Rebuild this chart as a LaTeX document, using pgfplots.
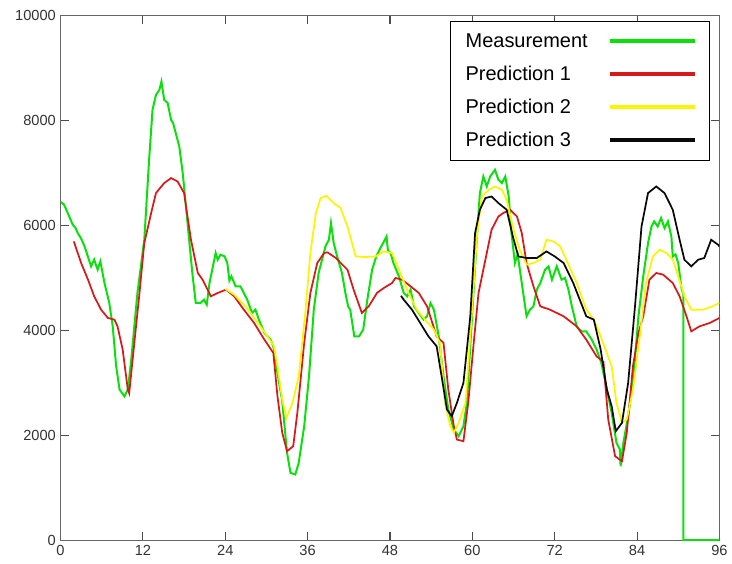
\documentclass[border=0pt]{standalone}
\usepackage{fontspec}
\setmainfont{Liberation Sans}
\usepackage{pgfplots}
\pgfplotsset{compat=1.18}

\definecolor{meas}{RGB}{10,225,10}
\definecolor{pred1}{RGB}{215,25,25}
\definecolor{pred2}{RGB}{250,245,0}
\definecolor{pred3}{RGB}{10,10,10}

\begin{document}
\begin{tikzpicture}
\begin{axis}[
  scale only axis,
  width=495pt, height=394pt,
  xmin=0, xmax=96, ymin=0, ymax=10000,
  xtick={0,12,...,96},
  ytick={0,2000,...,10000},
  tick align=inside, tick pos=both,
  major tick length=6pt,
  axis line style={black!60, line width=0.9pt},
  tick style={black!70, line width=0.8pt},
  ticklabel style={font=\fontsize{11}{13}\selectfont, text=black!80},
  /pgf/number format/assume math mode=true,
  /pgf/number format/1000 sep={},
  scaled y ticks=false,
  legend plot pos=right,
  legend cell align=left,
  legend image code/.code={\draw[#1,line width=3pt] (0pt,0pt) -- (64pt,0pt);},
  legend style={at={(0.986,0.99)}, anchor=north east, draw=black, line width=1pt,
    font=\fontsize{15}{18}\selectfont, inner xsep=9.5pt, inner ysep=7pt,
    row sep=8.5pt, /tikz/every odd column/.append style={column sep=13pt}},
]
\addplot[meas, line width=1.5pt] coordinates {
(0,6450) (0.5,6400) (1,6250) (1.5,6100) (1.8,6010) (2.2,5950) (2.5,5856) (3,5750)
(3.5,5600) (4,5400) (4.45,5220) (4.9,5350) (5.4,5157) (5.8,5315) (6.4,4903) (7.1,4522)
(7.6,4077) (8.1,3315) (8.6,2871) (9.3,2743) (9.8,2871) (10.3,3442) (11.2,4713) (12.2,5728)
(12.9,7252) (13.4,8205) (13.9,8490) (14.4,8586) (14.7,8744) (15.1,8395) (15.6,8338) (16.1,8014)
(16.4,7951) (17.3,7506) (17.8,7000) (18.5,6047) (19.2,5094) (19.7,4522) (20.4,4522) (20.9,4585)
(21.3,4490) (21.7,4903) (22.1,5157) (22.6,5475) (22.9,5347) (23.3,5443) (23.9,5411) (24.3,5284)
(24.6,4950) (24.9,5030) (25.5,4840) (26.2,4840) (27.2,4585) (27.9,4332) (28.4,4395) (28.9,4204)
(29.7,3951) (30.6,3823) (31.0,3696) (31.6,3189) (32.3,2650) (33.0,1665) (33.5,1284) (34.2,1252)
(34.7,1474) (35.5,2172) (36.2,3124) (36.9,4395) (37.6,5094) (38.6,5601) (39.1,5728) (39.4,6047)
(39.8,5665) (40.3,5410) (41.0,5094) (41.5,4713) (41.9,4458) (42.2,4395) (42.8,3886) (43.5,3886)
(44.1,4014) (44.7,4585) (45.4,5157) (46.0,5410) (46.6,5570) (47.0,5665) (47.5,5791) (47.7,5520)
(48.1,5475) (48.5,5284) (49.3,5030) (50.0,4713) (50.5,4649) (51.0,4776) (51.5,4458) (52.2,4332)
(52.9,4204) (53.4,4268) (53.9,4522) (54.4,4395) (55.1,3886) (55.8,3124) (56.5,2490) (57.3,2109)
(58.0,1981) (58.7,2172) (59.2,2617) (59.9,4141) (60.7,5856) (61.1,6618) (61.6,6934) (62.1,6744)
(62.6,6934) (63.3,7062) (63.8,6871) (64.3,6808) (64.8,6934) (65.3,6553) (65.7,5856) (66.2,5284)
(66.6,5450) (67.2,4903) (67.9,4268) (68.4,4395) (68.9,4458) (69.4,4776) (69.9,4903) (70.6,5157)
(71.1,5220) (71.6,4966) (72.3,5220) (73.0,4966) (73.5,5000) (74.0,4776) (74.5,4458) (75.2,4077)
(75.9,3981) (76.6,3981) (77.4,3823) (78.1,3633) (78.8,3379) (79.5,2934) (80.3,2427) (81.0,1855)
(81.5,1728) (81.6,1410) (82.0,1855) (82.7,2362) (83.4,2998) (84.2,4268) (84.9,5030) (85.6,5665)
(86.1,5982) (86.5,6077) (87.0,5982) (87.5,6142) (88.0,5950) (88.5,6077) (89.0,5791) (89.2,5410)
(89.6,5450) (90.0,5284) (90.5,4780) (90.75,4700) (90.75,0) (96,0)
};
\addlegendentry{Measurement}
\addplot[pred1, line width=1.3pt] coordinates {
(1.93,5696) (3.0,5284) (4.0,4966) (4.9,4649) (5.9,4395) (6.9,4236) (7.85,4204) (8.3,4077)
(9.05,3633) (9.8,2871) (10.0,2800) (10.75,3760) (11.5,4713) (12.2,5665) (13.2,6237) (13.9,6618)
(15.1,6808) (16.1,6904) (17.05,6839) (18.0,6618) (19.0,5728) (20.0,5094) (20.7,4966) (21.9,4649)
(22.9,4713) (24.1,4776) (25.3,4649) (26.7,4395) (28.2,4141) (29.7,3823) (31.0,3570) (31.6,2750)
(32.3,2046) (33.0,1696) (33.9,1791) (34.5,2427) (35.5,3760) (36.4,4713) (37.4,5284) (38.4,5475)
(38.9,5487) (40.1,5380) (41.8,5157) (42.7,4776) (43.9,4332) (44.9,4458) (46.1,4713) (47.1,4808)
(48.3,4903) (48.8,4999) (49.75,4966) (51.0,4840) (52.2,4713) (53.4,4458) (54.8,3886) (55.8,3760)
(56.5,2871) (57.3,2172) (57.75,1918) (58.7,1886) (59.4,2617) (60.2,3760) (60.9,4713) (61.9,5347)
(62.8,5919) (63.8,6172) (64.5,6237) (65.5,6300) (66.5,6172) (67.2,5856) (67.9,5284) (68.9,4840)
(69.9,4458) (71.3,4395) (73.3,4268) (75.2,4077) (76.6,3823) (78.1,3505) (79.1,3400) (79.8,2300)
(80.8,1600) (81.8,1505) (82.5,2046) (83.4,3315) (84.2,3951) (84.9,4268) (85.8,4966) (86.8,5094)
(87.8,5062) (89.2,4903) (90.2,4649) (91.2,4268) (91.9,3981) (93.1,4077) (94.6,4141) (96,4236)
};
\addlegendentry{Prediction 1}
\addplot[pred2, line width=1.3pt] coordinates {
(24.0,4790) (25.3,4680) (27.2,4420) (29.7,3970) (31.1,3696) (31.6,3315) (32.3,2680) (32.9,2331)
(33.8,2617) (34.7,3124) (35.7,4395) (36.4,5475) (37.2,6237) (37.9,6523) (38.75,6566) (39.8,6427)
(40.8,6332) (41.8,5982) (43.0,5410) (44.4,5398) (45.9,5410) (47.1,5505) (48.3,5475) (49.5,5094)
(50.7,4713) (51.9,4395) (53.1,4204) (54.4,4014) (55.3,3760) (56.0,2617) (56.8,2172) (57.3,2046)
(58.0,2236) (59.0,2617) (59.9,4268) (60.7,5856) (61.4,6553) (62.4,6681) (63.3,6744) (64.3,6681)
(65.0,6490) (66.0,5919) (66.9,5538) (67.9,5252) (68.9,5284) (69.9,5347) (70.8,5728) (71.8,5696)
(72.8,5601) (73.7,5347) (75.2,4903) (76.6,4395) (77.7,4204) (78.7,3886) (79.5,3600) (80.3,3315)
(81.0,2617) (81.8,2236) (82.5,2300) (83.4,2871) (84.4,3886) (85.3,4903) (86.3,5410) (87.3,5538)
(88.3,5475) (89.2,5347) (90.0,5030) (90.9,4649) (91.9,4395) (93.6,4395) (95.0,4458) (96,4522)
};
\addlegendentry{Prediction 2}
\addplot[pred3, line width=1.3pt] coordinates {
(49.6,4660) (50.0,4585) (51.2,4395) (52.4,4141) (53.6,3886) (54.8,3696) (55.6,3061) (56.3,2490)
(57.0,2362) (57.75,2617) (58.7,2998) (59.7,4268) (60.4,5856) (61.1,6300) (61.9,6523) (62.8,6553)
(63.8,6427) (65.0,6300) (65.9,5791) (66.7,5410) (67.9,5380) (69.4,5380) (70.8,5505) (72.0,5410)
(73.3,5284) (74.7,4903) (76.6,4268) (77.7,4204) (78.7,3633) (79.6,2871) (80.3,2553) (80.9,2077)
(81.8,2236) (82.7,2998) (83.7,4458) (84.65,5982) (85.6,6618) (86.8,6744) (88.0,6618) (89.2,6300)
(90.2,5728) (90.9,5347) (91.9,5220) (92.9,5347) (93.8,5380) (94.8,5728) (95.8,5633) (96,5600)
};
\addlegendentry{Prediction 3}
\end{axis}
% page margins as in the reference
\path ([xshift=-45.5pt]current axis.west) ([yshift=11.8pt]current axis.north)
      ([xshift=8pt]current axis.east) ([yshift=-17.5pt]current axis.south);
\end{tikzpicture}
\end{document}
